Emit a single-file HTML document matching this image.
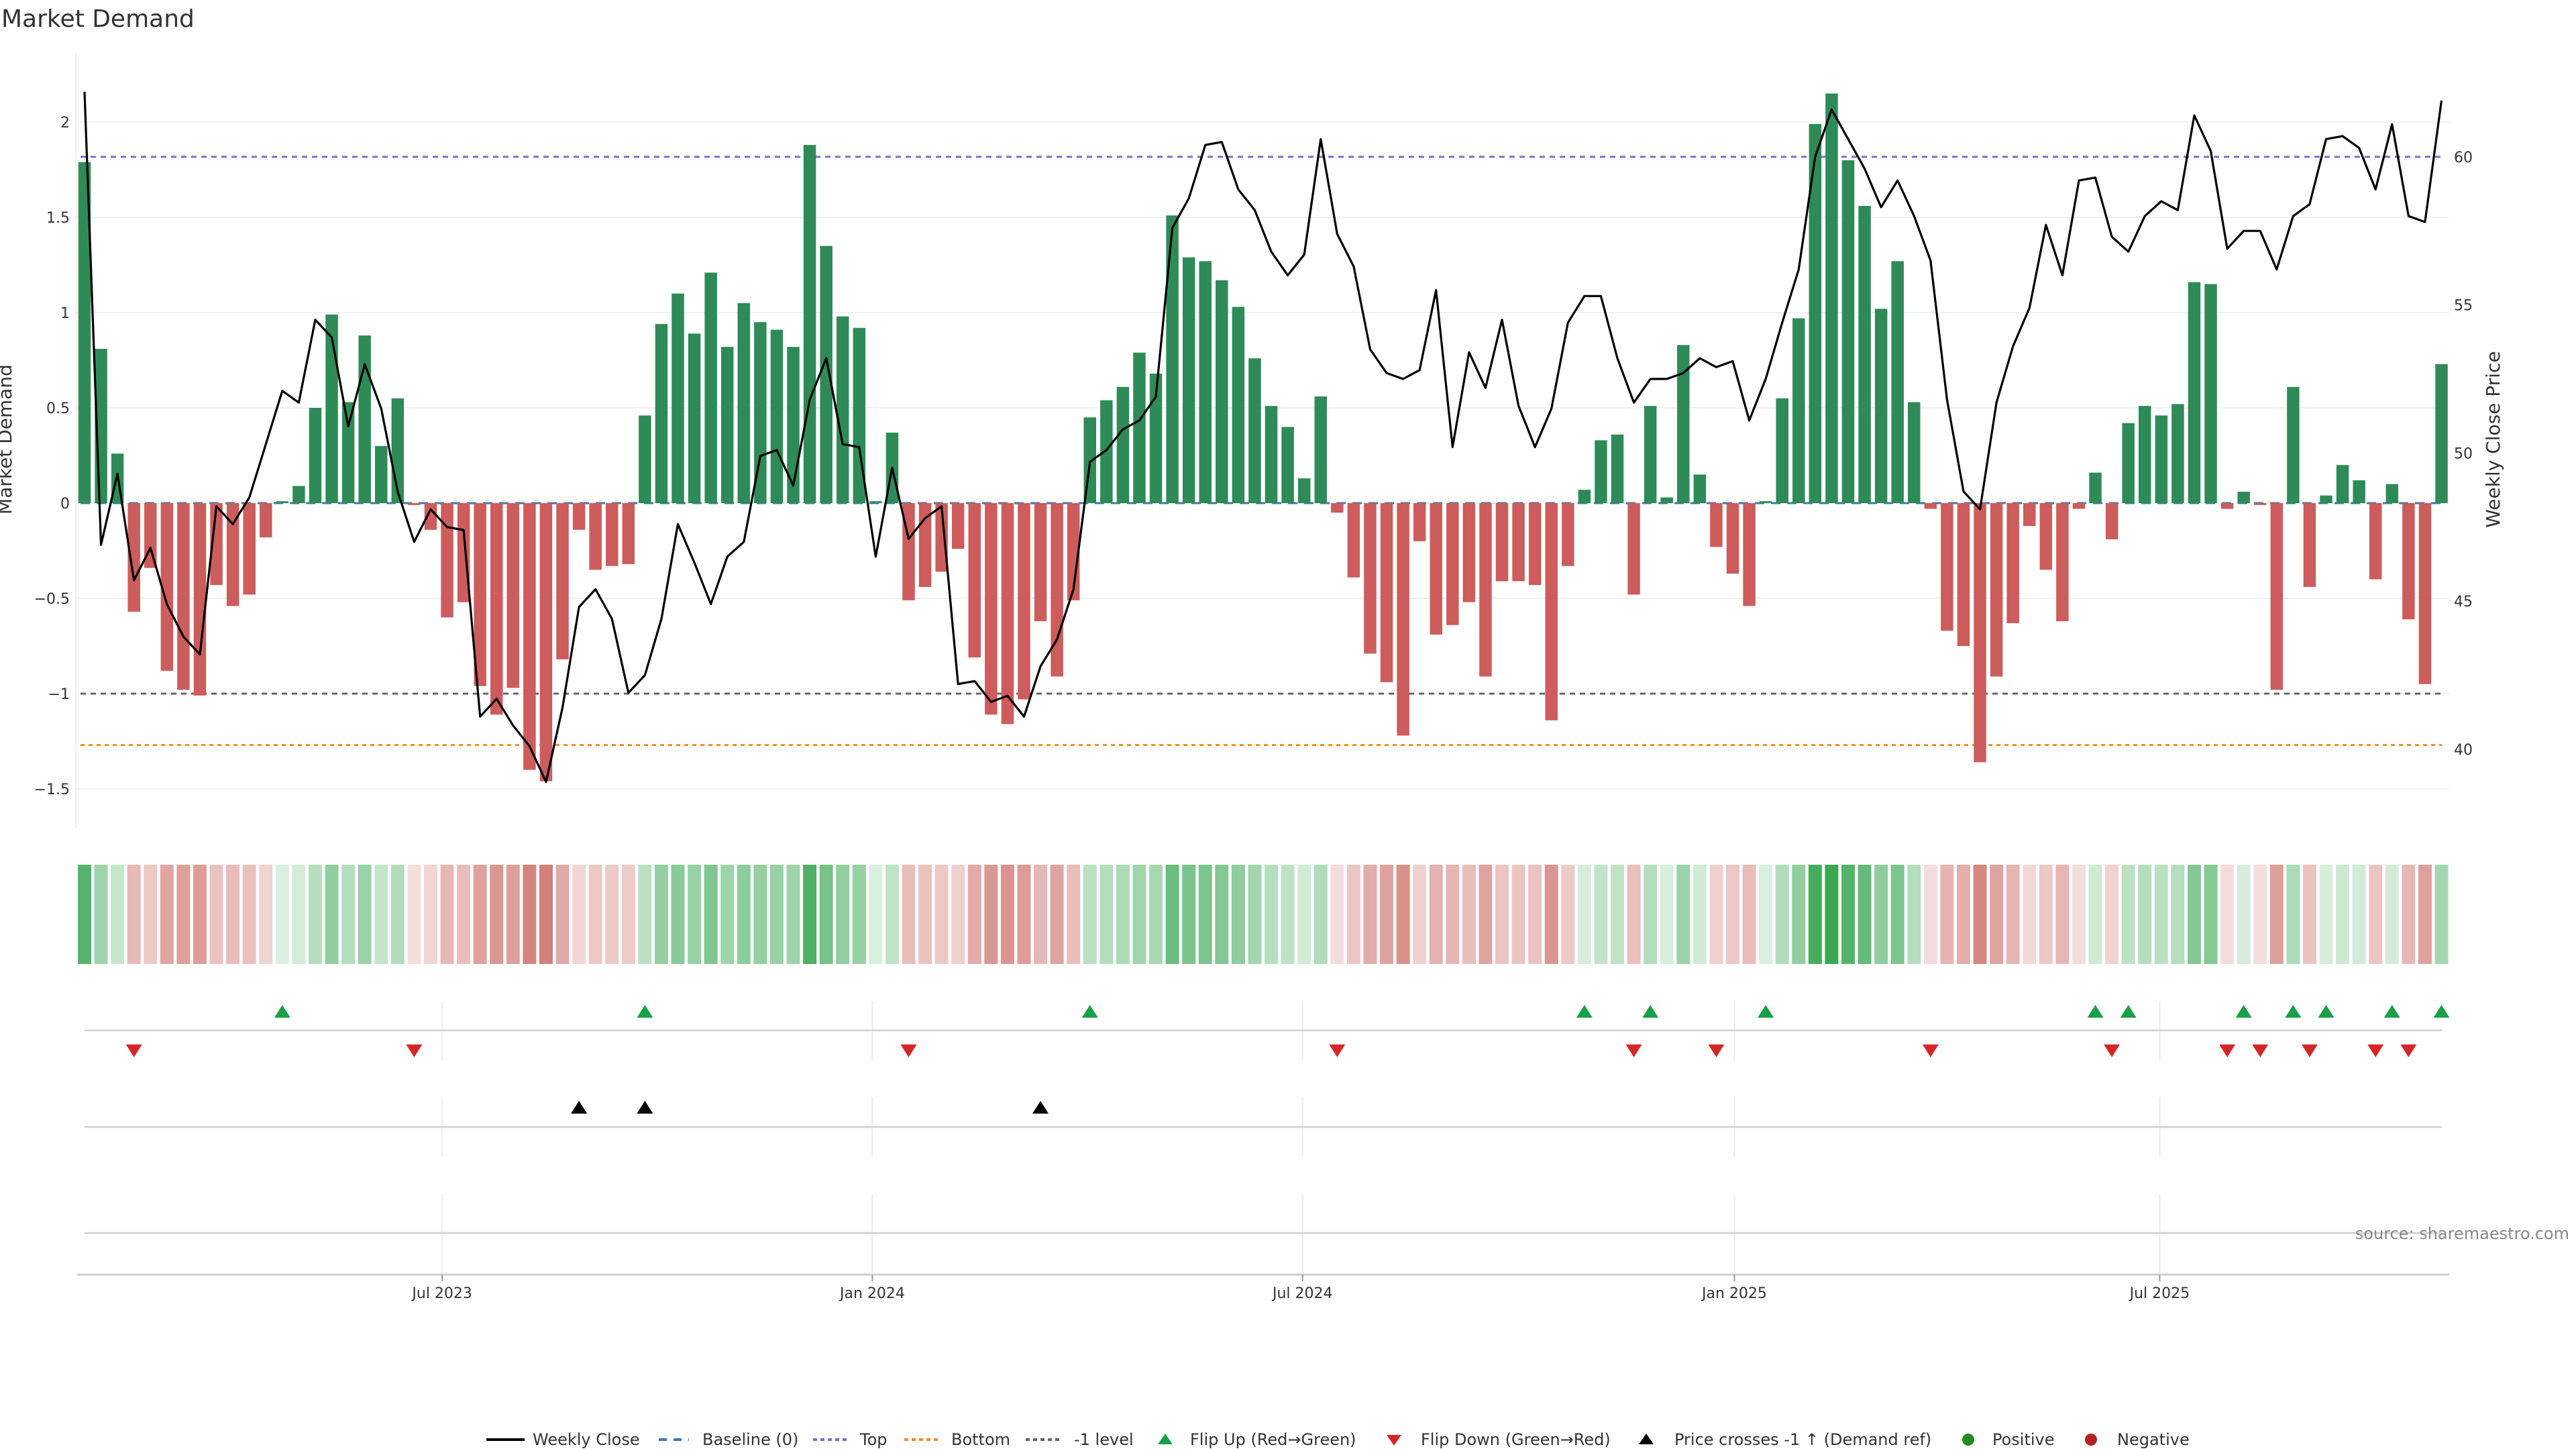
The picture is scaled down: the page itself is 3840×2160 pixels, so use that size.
<!DOCTYPE html>
<html><head><meta charset="utf-8"><title>Market Demand</title>
<style>
html,body{margin:0;padding:0;background:#fff;}
svg{display:block;font-family:"DejaVu Sans","Liberation Sans",sans-serif;}
</style></head>
<body>
<svg id="chart" width="3840" height="2160" viewBox="0 0 3840 2160" xmlns="http://www.w3.org/2000/svg">
<rect width="3840" height="2160" fill="#fff"/>
<text x="2" y="40" font-size="36" fill="#333">Market Demand</text>
<g id="grid"></g>
<g id="refs"></g>
<g id="bars"></g>
<g id="price"></g>
<g id="axes"></g>
<g id="strip"></g>
<g id="markers"></g>
<text x="17" y="655" font-size="28" fill="#333" text-anchor="middle" transform="rotate(-90 17 655)">Market Demand</text>
<text x="3726" y="655" font-size="28" fill="#333" text-anchor="middle" transform="rotate(-90 3726 655)">Weekly Close Price</text>
<text x="3830" y="1847" font-size="24" fill="#888" text-anchor="end">source: sharemaestro.com</text>
<g id="legend">
  <line x1="725" y1="2146" x2="782" y2="2146" stroke="#000" stroke-width="4"/>
  <text x="794" y="2154" font-size="24" fill="#333">Weekly Close</text>
  <line x1="982" y1="2146" x2="1027" y2="2146" stroke="#3b7bb0" stroke-width="4" stroke-dasharray="12,10"/>
  <text x="1047" y="2154" font-size="24" fill="#333">Baseline (0)</text>
  <line x1="1212" y1="2146" x2="1262" y2="2146" stroke="#7b6fd0" stroke-width="4" stroke-dasharray="6,5"/>
  <text x="1282" y="2154" font-size="24" fill="#333">Top</text>
  <line x1="1348" y1="2146" x2="1400" y2="2146" stroke="#f08c1e" stroke-width="4" stroke-dasharray="6,5"/>
  <text x="1418" y="2154" font-size="24" fill="#333">Bottom</text>
  <line x1="1529" y1="2146" x2="1583" y2="2146" stroke="#666" stroke-width="4" stroke-dasharray="6,5"/>
  <text x="1601" y="2154" font-size="24" fill="#333">-1 level</text>
  <path d="M1737 2137 L1748 2153 L1726 2153 Z" fill="#18a048"/>
  <text x="1774" y="2154" font-size="24" fill="#333">Flip Up (Red→Green)</text>
  <path d="M2078 2139 L2089 2139 L2078 2155 L2067 2139 Z" fill="#d62728"/>
  <text x="2118" y="2154" font-size="24" fill="#333">Flip Down (Green→Red)</text>
  <path d="M2454 2137 L2465 2153 L2443 2153 Z" fill="#000"/>
  <text x="2496" y="2154" font-size="24" fill="#333">Price crosses -1 ↑ (Demand ref)</text>
  <circle cx="2934" cy="2146" r="9" fill="#228b22"/>
  <text x="2970" y="2154" font-size="24" fill="#333">Positive</text>
  <circle cx="3117" cy="2146" r="9" fill="#b22222"/>
  <text x="3156" y="2154" font-size="24" fill="#333">Negative</text>
</g>
</svg>
<script>
const demand = [1.79,0.81,0.26,-0.57,-0.34,-0.88,-0.98,-1.01,-0.43,-0.54,
-0.48,-0.18,0.01,0.09,0.50,0.99,0.53,0.88,0.30,0.55,
-0.01,-0.14,-0.60,-0.52,-0.96,-1.11,-0.97,-1.40,-1.46,-0.82,
-0.14,-0.35,-0.33,-0.32,0.46,0.94,1.10,0.89,1.21,0.82,
1.05,0.95,0.91,0.82,1.88,1.35,0.98,0.92,0.01,0.37,
-0.51,-0.44,-0.36,-0.24,-0.81,-1.11,-1.16,-1.03,-0.62,-0.91,
-0.51,0.45,0.54,0.61,0.79,0.68,1.51,1.29,1.27,1.17,
1.03,0.76,0.51,0.40,0.13,0.56,-0.05,-0.39,-0.79,-0.94,
-1.22,-0.20,-0.69,-0.64,-0.52,-0.91,-0.41,-0.41,-0.43,-1.14,
-0.33,0.07,0.33,0.36,-0.48,0.51,0.03,0.83,0.15,-0.23,
-0.37,-0.54,0.01,0.55,0.97,1.99,2.15,1.80,1.56,1.02,
1.27,0.53,-0.03,-0.67,-0.75,-1.36,-0.91,-0.63,-0.12,-0.35,
-0.62,-0.03,0.16,-0.19,0.42,0.51,0.46,0.52,1.16,1.15,
-0.03,0.06,-0.01,-0.98,0.61,-0.44,0.04,0.20,0.12,-0.40,
0.10,-0.61,-0.95,0.73];
const prices = [62.2,46.9,49.3,45.7,46.8,44.9,43.8,43.2,48.2,47.6,
48.5,50.3,52.1,51.7,54.5,53.9,50.9,53.0,51.5,48.7,
47.0,48.1,47.5,47.4,41.1,41.7,40.8,40.1,38.9,41.4,
44.8,45.4,44.4,41.9,42.5,44.4,47.6,46.3,44.9,46.5,
47.0,49.9,50.1,48.9,51.8,53.2,50.3,50.2,46.5,49.5,
47.1,47.8,48.2,42.2,42.3,41.6,41.8,41.1,42.8,43.7,
45.4,49.7,50.1,50.8,51.1,51.9,57.6,58.6,60.4,60.5,
58.9,58.2,56.8,56.0,56.7,60.6,57.4,56.3,53.5,52.7,
52.5,52.8,55.5,50.2,53.4,52.2,54.5,51.6,50.2,51.5,
54.4,55.3,55.3,53.2,51.7,52.5,52.5,52.7,53.2,52.9,
53.1,51.1,52.5,54.4,56.2,60.0,61.6,60.6,59.6,58.3,
59.2,58.0,56.5,51.8,48.7,48.1,51.7,53.6,54.9,57.7,
56.0,59.2,59.3,57.3,56.8,58.0,58.5,58.2,61.4,60.2,
56.9,57.5,57.5,56.2,58.0,58.4,60.6,60.7,60.3,58.9,
61.1,58.0,57.8,61.9];
const flipUpIdx = [12,34,61,91,95,102,122,124,131,134,136,140,143];
const flipDownIdx = [3,20,50,76,94,99,112,123,130,132,135,139,141];
const crossIdx = [30,34,58];
const leftTicks = [2,1.5,1,0.5,0,-0.5,-1,-1.5];
const leftTickLabels = ["2","1.5","1","0.5","0","−0.5","−1","−1.5"];
const rightTicks = [40,45,50,55,60];
const xTickWeeks = [21.7,47.8,73.9,100.1,125.9];
const xTickLabels = ["Jul 2023","Jan 2024","Jul 2024","Jan 2025","Jul 2025"];
const topLevel = 1.818;
const bottomLevel = -1.27;
const minusLevel = -1;

const NS = "http://www.w3.org/2000/svg";
const X0 = 126, DX = 24.57, PLOT_L = 113, PLOT_R = 3651;
const yD = v => 750 - v * 284;
const yP = p => 1116.8 - (p - 40) * 44.15;
const xI = i => X0 + i * DX;
function mk(tag, attrs, parent){const e=document.createElementNS(NS,tag);for(const k in attrs)e.setAttribute(k,attrs[k]);parent.appendChild(e);return e;}

const grid = document.getElementById('grid');
leftTicks.forEach(t=>{
  const l = mk('line',{x1:PLOT_L,x2:PLOT_R,y1:yD(t),y2:yD(t),stroke:'#eef0f4','stroke-width':2},grid);
  
  
});
const axL = mk('line',{x1:PLOT_L,x2:PLOT_L,y1:80,y2:1235,stroke:'#eef0f4','stroke-width':2},grid);



const refs = document.getElementById('refs');
function ref(v,color,dash,name){
  const l = mk('line',{x1:X0-6,x2:3640,y1:yD(v),y2:yD(v),stroke:color,'stroke-width':3,'stroke-dasharray':dash},refs);
  
  
}
ref(0,'#3b7bb0','14,10','baseline-zero');
ref(topLevel,'#7b6fd0','8,7','top-level-line');
ref(bottomLevel,'#f08c1e','6,6','bottom-level-line');
ref(minusLevel,'#666','8,7','minus-one-level-line');

const bars = document.getElementById('bars');
demand.forEach((v,i)=>{
  const y1 = yD(Math.max(v,0)), y2 = yD(Math.min(v,0));
  const r = mk('rect',{x:xI(i)-9.25,y:y1,width:18.5,height:Math.max(y2-y1,1),fill:v>=0?'#2e8b57':'#cd5c5c'},bars);
  
  
});

const pg = document.getElementById('price');
const pl = mk('polyline',{points:prices.map((p,i)=>xI(i).toFixed(1)+','+yP(p).toFixed(1)).join(' '),fill:'none',stroke:'#000','stroke-width':3.2,'stroke-linejoin':'round'},pg);



const axes = document.getElementById('axes');
leftTicks.forEach((t,k)=>{
  const tx = mk('text',{x:104,y:yD(t)+8,'font-size':22,fill:'#333','text-anchor':'end'},axes);
  tx.textContent = leftTickLabels[k];
  
  
});
rightTicks.forEach(t=>{
  const tx = mk('text',{x:3658,y:yP(t)+8,'font-size':22,fill:'#333'},axes);
  tx.textContent = String(t);
  
  
});
[[1493,1581],[1635,1724],[1780,1900]].forEach(seg=>{
  xTickWeeks.forEach(w=>{
    const l = mk('line',{x1:xI(w),x2:xI(w),y1:seg[0],y2:seg[1],stroke:'#ececec','stroke-width':2},axes);
    
    
  });
});
[1536,1680,1838].forEach(y=>{
  const l = mk('line',{x1:126,x2:3640,y1:y,y2:y,stroke:'#cfcfcf','stroke-width':2.5},axes);
  
  
});
const xa = mk('line',{x1:115,x2:3651,y1:1900,y2:1900,stroke:'#cfcfcf','stroke-width':3},axes);


xTickWeeks.forEach((w,k)=>{
  const t = mk('line',{x1:xI(w),x2:xI(w),y1:1900,y2:1910,stroke:'#999','stroke-width':2},axes);
  
  
  const tx = mk('text',{x:xI(w),y:1935,'font-size':22,fill:'#333','text-anchor':'middle'},axes);
  tx.textContent = xTickLabels[k];
  
  
});

const strip = document.getElementById('strip');
demand.forEach((v,i)=>{
  const f = Math.min(0.95, 0.17 + 0.35*Math.abs(v));
  const c = v>=0 ? [42,160,69] : [190,69,61];
  const col = 'rgb('+c.map(ch=>Math.round(255-f*(255-ch))).join(',')+')';
  const r = mk('rect',{x:xI(i)-10,y:1289,width:20,height:148,fill:col},strip);
  
  
});

const mg = document.getElementById('markers');
function tri(i,y,up,color,name){
  const x = xI(i);
  const d = up ? `M${x} ${y-10} L${x+12} ${y+9} L${x-12} ${y+9} Z` : `M${x-12} ${y-9} L${x+12} ${y-9} L${x} ${y+10} Z`;
  const p = mk('path',{d:d,fill:color},mg);
  
  
}
flipUpIdx.forEach(i=>tri(i,1508,true,'#18a048','flip-up-marker'));
flipDownIdx.forEach(i=>tri(i,1566,false,'#d62728','flip-down-marker'));
crossIdx.forEach(i=>tri(i,1651,true,'#000','price-cross-marker'));
</script>
</body></html>
